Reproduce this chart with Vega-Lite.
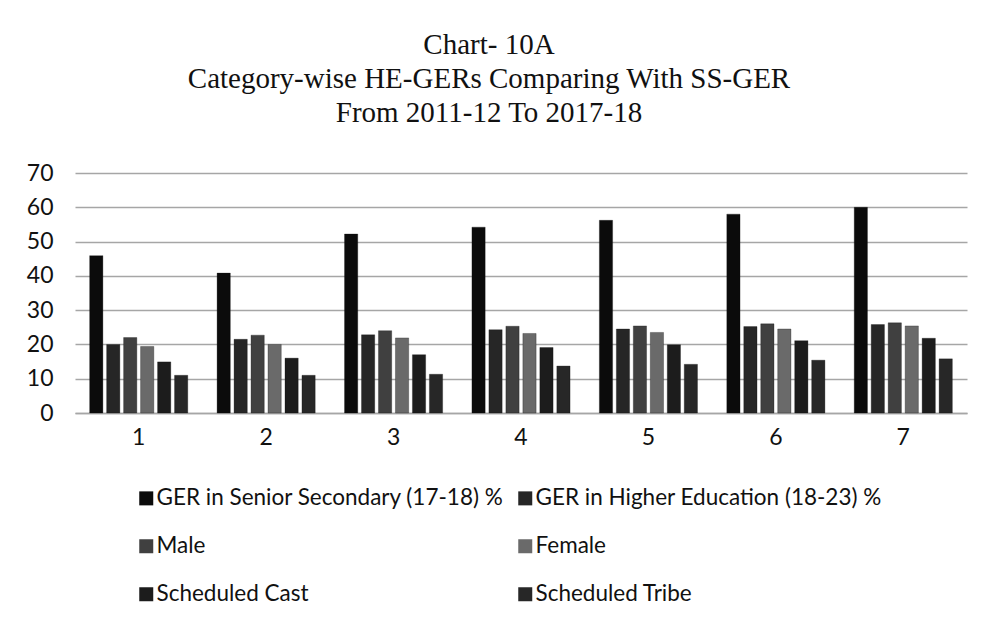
{
  "$schema": "https://vega.github.io/schema/vega-lite/v6.json",
  "autosize": {"type": "none"},
  "width": 892,
  "height": 240,
  "padding": {"left": 75, "top": 173, "right": 14, "bottom": 207},
  "background": "white",
  "title": {
    "text": ["Chart- 10A", "Category-wise HE-GERs Comparing With SS-GER", "From 2011-12 To 2017-18"],
    "font": "Liberation Serif",
    "fontSize": 29,
    "fontWeight": "normal",
    "color": "#111111",
    "lineHeight": 34,
    "anchor": "middle",
    "dx": -32,
    "offset": 34
  },
  "data": {
    "values": [
      {"year": "1", "series": "GER in Senior Secondary (17-18) %", "value": 45.9},
      {"year": "1", "series": "GER in Higher Education (18-23) %", "value": 20.0},
      {"year": "1", "series": "Male", "value": 22.0},
      {"year": "1", "series": "Female", "value": 19.4},
      {"year": "1", "series": "Scheduled Cast", "value": 14.9},
      {"year": "1", "series": "Scheduled Tribe", "value": 11.0},
      {"year": "2", "series": "GER in Senior Secondary (17-18) %", "value": 40.8},
      {"year": "2", "series": "GER in Higher Education (18-23) %", "value": 21.5},
      {"year": "2", "series": "Male", "value": 22.7},
      {"year": "2", "series": "Female", "value": 20.0},
      {"year": "2", "series": "Scheduled Cast", "value": 16.0},
      {"year": "2", "series": "Scheduled Tribe", "value": 11.0},
      {"year": "3", "series": "GER in Senior Secondary (17-18) %", "value": 52.2},
      {"year": "3", "series": "GER in Higher Education (18-23) %", "value": 22.8},
      {"year": "3", "series": "Male", "value": 24.0},
      {"year": "3", "series": "Female", "value": 21.9},
      {"year": "3", "series": "Scheduled Cast", "value": 17.0},
      {"year": "3", "series": "Scheduled Tribe", "value": 11.3},
      {"year": "4", "series": "GER in Senior Secondary (17-18) %", "value": 54.2},
      {"year": "4", "series": "GER in Higher Education (18-23) %", "value": 24.3},
      {"year": "4", "series": "Male", "value": 25.3},
      {"year": "4", "series": "Female", "value": 23.2},
      {"year": "4", "series": "Scheduled Cast", "value": 19.1},
      {"year": "4", "series": "Scheduled Tribe", "value": 13.7},
      {"year": "5", "series": "GER in Senior Secondary (17-18) %", "value": 56.2},
      {"year": "5", "series": "GER in Higher Education (18-23) %", "value": 24.5},
      {"year": "5", "series": "Male", "value": 25.4},
      {"year": "5", "series": "Female", "value": 23.5},
      {"year": "5", "series": "Scheduled Cast", "value": 19.9},
      {"year": "5", "series": "Scheduled Tribe", "value": 14.2},
      {"year": "6", "series": "GER in Senior Secondary (17-18) %", "value": 58.0},
      {"year": "6", "series": "GER in Higher Education (18-23) %", "value": 25.2},
      {"year": "6", "series": "Male", "value": 26.0},
      {"year": "6", "series": "Female", "value": 24.5},
      {"year": "6", "series": "Scheduled Cast", "value": 21.1},
      {"year": "6", "series": "Scheduled Tribe", "value": 15.4},
      {"year": "7", "series": "GER in Senior Secondary (17-18) %", "value": 60.0},
      {"year": "7", "series": "GER in Higher Education (18-23) %", "value": 25.8},
      {"year": "7", "series": "Male", "value": 26.3},
      {"year": "7", "series": "Female", "value": 25.4},
      {"year": "7", "series": "Scheduled Cast", "value": 21.8},
      {"year": "7", "series": "Scheduled Tribe", "value": 15.8}
    ]
  },
  "mark": {"type": "bar", "stroke": "#111111", "strokeWidth": 0.5, "strokeOpacity": 0.6},
  "encoding": {
    "x": {
      "field": "year",
      "type": "nominal",
      "scale": {"paddingInner": 0.23, "paddingOuter": 0.115},
      "axis": {
        "title": null,
        "labelAngle": 0,
        "ticks": false,
        "domain": true,
        "domainColor": "#a6a6a6",
        "domainWidth": 1.5,
        "labelFont": "Lato",
        "labelFontSize": 23,
        "labelColor": "#111111",
        "labelPadding": 13
      }
    },
    "xOffset": {
      "field": "series",
      "type": "nominal",
      "sort": ["GER in Senior Secondary (17-18) %", "GER in Higher Education (18-23) %", "Male", "Female", "Scheduled Cast", "Scheduled Tribe"],
      "scale": {"paddingInner": 0.22, "paddingOuter": 0}
    },
    "y": {
      "field": "value",
      "type": "quantitative",
      "scale": {"domain": [0, 70]},
      "axis": {
        "title": null,
        "values": [0, 10, 20, 30, 40, 50, 60, 70],
        "ticks": false,
        "domain": false,
        "grid": true,
        "gridColor": "#a6a6a6",
        "gridWidth": 1.5,
        "labelFont": "Lato",
        "labelFontSize": 23,
        "labelColor": "#111111",
        "labelPadding": 22
      }
    },
    "color": {
      "field": "series",
      "type": "nominal",
      "scale": {
        "domain": ["GER in Senior Secondary (17-18) %", "GER in Higher Education (18-23) %", "Male", "Female", "Scheduled Cast", "Scheduled Tribe"],
        "range": ["#0b0b0b", "#262626", "#404040", "#6a6a6a", "#1c1c1c", "#272727"]
      },
      "legend": {
        "title": null,
        "orient": "none",
        "direction": "horizontal",
        "legendX": 60,
        "legendY": 314,
        "columns": 2,
        "padding": 0,
        "rowPadding": 25,
        "columnPadding": 10,
        "symbolType": "square",
        "symbolSize": 196,
        "symbolStrokeWidth": 0,
        "labelFont": "Lato",
        "labelFontSize": 22.5,
        "labelColor": "#111111",
        "labelLimit": 600,
        "labelOffset": -1
      }
    }
  },
  "config": {"view": {"stroke": null}}
}
